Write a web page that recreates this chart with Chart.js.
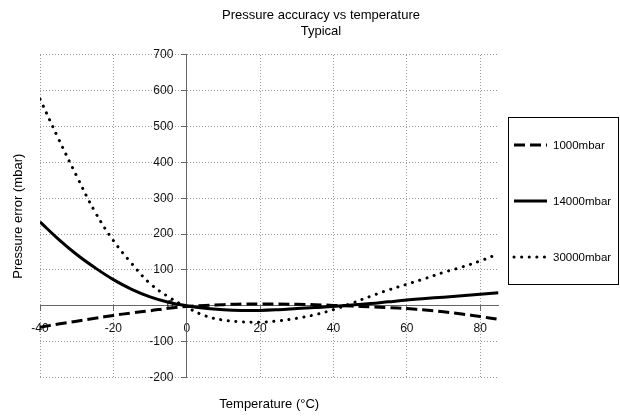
<!DOCTYPE html>
<html>
<head>
<meta charset="utf-8">
<script src="https://cdn.jsdelivr.net/npm/chart.js@4/dist/chart.umd.min.js"></script>
<style>
  html, body { margin: 0; padding: 0; background: #fff; }
  #box { width: 620px; height: 417px; }
</style>
</head>
<body>
<div id="box"><canvas id="pressureChart"></canvas></div>
<script>
// Temperature (°C)
const temps = [-40, -35, -30, -25, -20, -15, -10, -5, 0, 5, 10, 15, 20, 25, 30, 35, 40, 45, 50, 55, 60, 65, 70, 75, 80, 85];
// Pressure error (mbar)
const err1000  = [-60, -51, -43, -35, -27, -20, -14, -7, -2, 1, 3, 5, 5, 5, 4, 3, 1, -1, -3, -5, -8, -12, -17, -23, -30, -38];
const err14000 = [234, 186, 143, 106, 73, 46, 25, 10, 0, -7, -11, -13, -13, -11, -8, -5, -2, 2, 6, 11, 16, 20, 24, 28, 32, 36];
const err30000 = [577, 467, 362, 262, 182, 118, 62, 25, -4, -28, -40, -45, -46, -42, -35, -25, -11, 7, 26, 44, 60, 76, 93, 108, 125, 145];

const seriesNames = ['1000mbar', '14000mbar', '30000mbar'];
const xTickValues = [-40, -20, 0, 20, 40, 60, 80];
const yTickValues = [-200, -100, 0, 100, 200, 300, 400, 500, 600, 700];

const FONT = "'Liberation Sans', Arial, sans-serif";

function toPoints(ys) {
    return temps.map((t, i) => ({ x: t, y: ys[i] }));
}

// legend drawn as a framed box on the right
const boxLegend = {
    id: 'boxLegend',
    afterDraw(chart) {
        const ctx = chart.ctx;
        ctx.save();
        ctx.strokeStyle = '#000';
        ctx.lineWidth = 1;
        ctx.setLineDash([]);
        ctx.strokeRect(508.5, 117.5, 110, 167);
        ctx.font = '11.5px ' + FONT;
        ctx.textBaseline = 'middle';
        ctx.fillStyle = '#000';
        const rows = [145, 201, 257];
        chart.data.datasets.forEach((ds, i) => {
            const y = rows[i];
            ctx.beginPath();
            ctx.setLineDash(ds.borderDash || []);
            ctx.lineCap = ds.borderCapStyle || 'butt';
            ctx.lineWidth = ds.borderWidth;
            ctx.moveTo(514, y);
            ctx.lineTo(547, y);
            ctx.stroke();
            ctx.setLineDash([]);
            ctx.fillText(ds.label, 553, y + 0.5);
        });
        ctx.restore();
    }
};

const ctx = document.getElementById('pressureChart').getContext('2d');
new Chart(ctx, {
    type: 'line',
    data: {
        datasets: [{
            label: seriesNames[0],
            data: toPoints(err1000),
            borderColor: '#000',
            borderWidth: 3,
            borderDash: [11, 5],
            pointRadius: 0,
            tension: 0.4
        }, {
            label: seriesNames[1],
            data: toPoints(err14000),
            borderColor: '#000',
            borderWidth: 3,
            pointRadius: 0,
            tension: 0.4
        }, {
            label: seriesNames[2],
            data: toPoints(err30000),
            borderColor: '#000',
            borderWidth: 3,
            borderDash: [0.1, 7.5],
            borderCapStyle: 'round',
            pointRadius: 0,
            tension: 0.4
        }]
    },
    options: {
        responsive: true,
        maintainAspectRatio: false,
        animation: false,
        layout: { padding: { left: 22, right: 0, top: 0, bottom: 0 } },
        plugins: {
            legend: { display: false },
            tooltip: { enabled: false },
            title: {
                display: true,
                text: ['Pressure accuracy vs temperature', 'Typical'],
                color: '#000',
                font: { family: FONT, size: 13, weight: 'normal', lineHeight: 1.23 },
                padding: { top: 7, bottom: 16 }
            }
        },
        scales: {
            x: {
                type: 'linear',
                position: { y: 0 },
                min: -40,
                max: 85,
                afterBuildTicks: s => { s.ticks = xTickValues.map(v => ({ value: v })); },
                afterFit: s => { s.height = 0; },
                grid: { color: '#999', tickColor: '#666', tickLength: 5, tickBorderDash: [] },
                border: { color: '#666', width: 1, dash: [1, 2] },
                ticks: { color: '#111', font: { family: FONT, size: 12 }, padding: 11, maxRotation: 0 }
            },
            y: {
                type: 'linear',
                position: { x: 0 },
                min: -200,
                max: 700,
                afterBuildTicks: s => { s.ticks = yTickValues.map(v => ({ value: v })); },
                afterFit: s => { s.width = 0; },
                grid: { color: '#999', tickColor: '#666', tickLength: 5, tickBorderDash: [] },
                border: { color: '#666', width: 1, dash: [1, 2] },
                // labels sit right-aligned on the axis line, so pad them with spaces
                ticks: { color: '#111', font: { family: FONT, size: 12 }, callback: v => v + '    ' }
            },
            xTitle: {
                type: 'linear',
                axis: 'x',
                position: 'bottom',
                min: -40,
                max: 85,
                afterFit: s => { s.height = 39.6; },
                grid: { display: false, drawTicks: false },
                border: { display: false },
                ticks: { display: false },
                title: {
                    display: true,
                    text: 'Temperature (°C)',
                    color: '#000',
                    font: { family: FONT, size: 13 },
                    padding: { top: 0, bottom: 5 }
                }
            },
            yTitle: {
                type: 'linear',
                axis: 'y',
                position: 'left',
                min: -200,
                max: 700,
                afterFit: s => { s.width = 18; },
                grid: { display: false, drawTicks: false },
                border: { display: false },
                ticks: { display: false },
                title: {
                    display: true,
                    text: 'Pressure error (mbar)',
                    color: '#000',
                    font: { family: FONT, size: 13 },
                    padding: { top: -11, bottom: 0 }
                }
            },
            legendSpace: {
                type: 'linear',
                axis: 'y',
                position: 'right',
                afterFit: s => { s.width = 121.5; },
                grid: { display: false, drawTicks: false },
                border: { display: false },
                ticks: { display: false }
            }
        }
    },
    plugins: [boxLegend]
});
</script>
</body>
</html>
